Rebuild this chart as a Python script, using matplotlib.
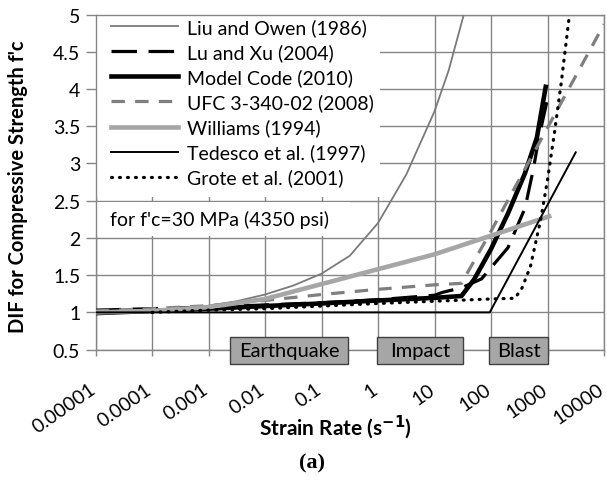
import matplotlib
matplotlib.use("Agg")
import matplotlib.pyplot as plt
from matplotlib.patches import Rectangle
from matplotlib.ticker import FixedLocator, FixedFormatter, NullLocator
import matplotlib.transforms as mtransforms

plt.rcParams['font.family'] = ['Lato', 'DejaVu Sans']

# ---------------- data ----------------
liu_rate = [1e-5, 3.16e-5, 1e-4, 3.16e-4, 1e-3, 3.16e-3, 1e-2, 3.16e-2, 1e-1, 0.316,
            1.0, 3.16, 10, 17.8, 33]
liu_dif = [1.00, 1.01, 1.025, 1.05, 1.09, 1.15, 1.24, 1.36, 1.52, 1.76,
           2.20, 2.85, 3.70, 4.25, 5.00]

luxu_rate = [1e-5, 1e-4, 1e-3, 1e-2, 1e-1, 1, 10, 14, 30, 68, 100, 200, 400, 560, 710, 1000]
luxu_dif = [1.03, 1.05, 1.07, 1.10, 1.13, 1.17, 1.23, 1.27, 1.33, 1.45, 1.60, 1.87, 2.40, 2.92, 3.36, 3.87]

mc_rate = [1e-5, 1e-4, 1e-3, 1e-2, 1e-1, 1, 10, 30, 50, 100, 200, 400, 650, 930]
mc_dif = [0.99, 1.02, 1.05, 1.085, 1.12, 1.16, 1.195, 1.22, 1.44, 1.85, 2.33, 2.87, 3.35, 4.03]

ufc_rate = [1e-5, 1e-4, 1e-3, 1e-2, 1e-1, 1, 10, 30, 100, 1000, 10000]
ufc_dif = [1.02, 1.05, 1.09, 1.16, 1.24, 1.31, 1.37, 1.39, 2.09, 3.48, 4.87]

will_rate = [1e-5, 1e-4, 1e-3, 1e-2, 1e-1, 1, 10, 100, 1070]
will_dif = [1.00, 1.02, 1.07, 1.18, 1.38, 1.58, 1.78, 2.03, 2.29]

ted_rate = [1e-5, 95, 3160]
ted_dif = [1.00, 1.00, 3.15]

grote_rate = [1e-4, 1e-3, 1e-2, 1e-1, 1, 10, 100, 266, 355, 500, 760, 1000, 1320, 1740, 2450]
grote_dif = [1.00, 1.03, 1.05, 1.085, 1.12, 1.15, 1.18, 1.19, 1.33, 1.62, 2.25, 2.78, 3.40, 4.07, 5.00]

labels = ["Liu and Owen (1986)", "Lu and Xu (2004)", "Model Code (2010)",
          "UFC 3-340-02 (2008)", "Williams (1994)", "Tedesco et al. (1997)",
          "Grote et al. (2001)"]

xtick_vals = [1e-5, 1e-4, 1e-3, 1e-2, 1e-1, 1, 10, 100, 1000, 10000]
xtick_labels = ["0.00001", "0.0001", "0.001", "0.01", "0.1", "1", "10", "100", "1000", "10000"]
ytick_vals = [0.5, 1, 1.5, 2, 2.5, 3, 3.5, 4, 4.5, 5]
ytick_labels = ["0.5", "1", "1.5", "2", "2.5", "3", "3.5", "4", "4.5", "5"]

regions = ["Earthquake", "Impact", "Blast"]
region_lo = [2.4e-3, 0.96, 93]
region_hi = [0.295, 32.5, 1020]

# ---------------- figure ----------------
W, H = 607, 481
fig = plt.figure(figsize=(W / 100, H / 100), dpi=100)
L, R, T, B = 95.5, 604, 15.6, 350.6
ax = fig.add_axes([L / W, 1 - B / H, (R - L) / W, (B - T) / H])
ax.set_xscale('log')
ax.set_xlim(1e-5, 1e4)
ax.set_ylim(0.5, 5)

gc = '#868686'
ax.set_axisbelow(True)
ax.grid(True, which='major', color=gc, lw=1.0)
for s in ax.spines.values():
    s.set_color(gc)
    s.set_linewidth(1.0)

ax.xaxis.set_major_locator(FixedLocator(xtick_vals))
ax.xaxis.set_major_formatter(FixedFormatter(xtick_labels))
ax.xaxis.set_minor_locator(NullLocator())
ax.yaxis.set_major_locator(FixedLocator(ytick_vals))
ax.yaxis.set_major_formatter(FixedFormatter(ytick_labels))
ax.tick_params(axis='y', length=7, width=1, color=gc, pad=4, labelsize=14)
ax.tick_params(axis='x', length=4, width=1, color=gc, pad=18, labelsize=14)
off = mtransforms.ScaledTranslation(-7 / 100, 0, fig.dpi_scale_trans)
for lab in ax.get_xticklabels():
    lab.set_rotation(35)
    lab.set_ha('right')
    lab.set_va('top')
    lab.set_rotation_mode('anchor')
    lab.set_transform(lab.get_transform() + off)

# lines
ax.plot(liu_rate, liu_dif, color='#7a7a7a', lw=1.3, label=labels[0], zorder=3)
ax.plot(luxu_rate, luxu_dif, color='black', lw=2.3, dashes=(8, 3.6), label=labels[1], zorder=3)
ax.plot(mc_rate, mc_dif, color='black', lw=3.3, label=labels[2], zorder=3)
ax.plot(ufc_rate, ufc_dif, color='#7f7f7f', lw=2.3, dashes=(4.2, 3.2), label=labels[3], zorder=3)
ax.plot(will_rate, will_dif, color='#a6a6a6', lw=3.3, label=labels[4], zorder=3)
ax.plot(ted_rate, ted_dif, color='black', lw=1.4, label=labels[5], zorder=3)
ax.plot(grote_rate, grote_dif, color='black', lw=2.3, dashes=(0.3, 2.2),
        dash_capstyle='round', label=labels[6], zorder=3)

# white backgrounds for legend and note
ax.add_patch(Rectangle((0, 1 - (198 - T) / (B - T)), (380 - L) / (R - L), (198 - T) / (B - T),
                       transform=ax.transAxes, facecolor='white', edgecolor='none', zorder=1))
ax.add_patch(Rectangle((0, 1 - (237 - T) / (B - T)), (350 - L) / (R - L), (237 - 203) / (B - T),
                       transform=ax.transAxes, facecolor='white', edgecolor='none', zorder=1))

leg = ax.legend(loc='upper left', bbox_to_anchor=((111 - L) / (R - L), 1 - (19 - T) / (B - T)),
                frameon=False, fontsize=14, borderaxespad=0, borderpad=0,
                handlelength=3.45, handletextpad=0.45, labelspacing=0.37)
leg.set_zorder(5)

ax.text((110 - L) / (R - L), 1 - (219.5 - T) / (B - T), "for f'c=30 MPa (4350 psi)",
        transform=ax.transAxes, fontsize=14, va='center', ha='left', zorder=5)

# region boxes
btrans = mtransforms.blended_transform_factory(ax.transData, ax.transAxes)
y0 = -(365 - B) / (B - T)
y1 = (B - 338) / (B - T)
for name, lo, hi in zip(regions, region_lo, region_hi):
    ax.add_patch(Rectangle((lo, y0), hi - lo, y1 - y0, transform=btrans,
                           facecolor='#a6a6a6', edgecolor='#404040', lw=1.0,
                           zorder=6, clip_on=False))
    xm = (lo * hi) ** 0.5
    ax.text(xm, (y0 + y1) / 2, name, transform=btrans, ha='center', va='center',
            fontsize=14.5, zorder=7, clip_on=False)

# axis titles
fig.text(18 / W, 1 - 187 / H, "DIF for Compressive Strength f'c", rotation=90,
         fontsize=14.5, fontweight='bold', ha='center', va='center')
fig.text(335 / W, 1 - 427 / H, "Strain Rate (s$^{\\mathbf{-1}}$)", fontsize=15,
         fontweight='bold', ha='center', va='center')
fig.text(312 / W, 1 - 463 / H, "(a)", fontsize=16, fontweight='bold',
         family='Liberation Serif', ha='center', va='center')

fig.savefig("out.png", dpi=100)
